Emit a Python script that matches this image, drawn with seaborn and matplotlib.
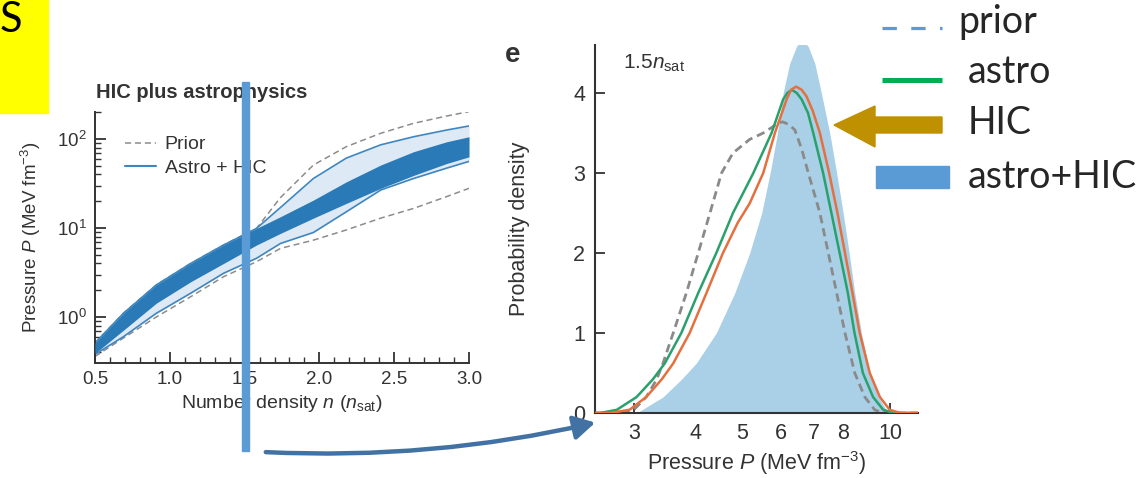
import numpy as np
import matplotlib
matplotlib.use("Agg")
import matplotlib.pyplot as plt
import seaborn as sns
from matplotlib.patches import FancyArrowPatch, Rectangle, Polygon
from matplotlib.lines import Line2D
from matplotlib.ticker import FixedLocator, NullFormatter, MultipleLocator, LogLocator

# ---------------- data: left panel (pressure vs density) ----------------
n_grid = [0.5, 0.69, 0.91, 1.14, 1.36, 1.58, 1.74, 1.96, 2.18, 2.41, 2.63, 2.85, 3.0]
dark_hi = [0.51, 1.10, 2.29, 4.0, 6.44, 9.9, 13.4, 20.6, 33, 51, 72, 93, 106]
dark_lo = [0.39, 0.71, 1.43, 2.49, 4.0, 6.44, 8.7, 12.9, 18.9, 27.9, 39, 53, 63]
light_hi = [0.51, 1.10, 2.29, 4.0, 6.44, 9.9, 17.0, 36, 61, 86, 106, 126, 140]
light_lo = [0.38, 0.60, 1.1, 1.85, 3.1, 4.57, 6.7, 8.9, 15.2, 26.7, 36, 47, 56]
prior_hi = [0.51, 1.10, 2.29, 4.0, 6.44, 9.9, 22, 51, 82, 116, 150, 181, 203]
prior_lo = [0.36, 0.58, 1.0, 1.69, 2.84, 4.18, 5.9, 7.3, 9.5, 12.9, 16.6, 22.5, 27.9]

# ---------------- data: right panel (probability density at 1.5 n_sat) ----------------
prior_P = [2.5, 2.85, 2.92, 3.0, 3.18, 3.34, 3.44, 3.61, 3.84, 4.06, 4.29, 4.53, 4.78, 5.17, 5.51,
           5.77, 5.9, 6.03, 6.2, 6.39, 6.6, 6.81, 7.19, 7.48, 7.78, 8.09, 8.47, 8.88, 9.30, 9.68, 11.4]
prior_d = [0.0, 0.0, 0.01, 0.04, 0.2, 0.42, 0.62, 1.0, 1.5, 2.0, 2.5, 3.0, 3.25, 3.42, 3.5,
           3.58, 3.62, 3.64, 3.61, 3.54, 3.3, 3.0, 2.5, 2.0, 1.5, 1.0, 0.5, 0.2, 0.04, 0.0, 0.0]
astro_P = [2.5, 2.56, 2.77, 3.04, 3.28, 3.47, 3.75, 4.06, 4.42, 4.78, 5.26, 5.73, 6.05, 6.17,
           6.30, 6.45, 6.60, 6.8, 6.97, 7.30, 7.59, 7.89, 8.20, 8.46, 8.80, 9.23, 9.68, 10.15, 11.4]
astro_d = [0.0, 0.0, 0.04, 0.2, 0.42, 0.62, 1.0, 1.5, 2.0, 2.5, 3.0, 3.5, 3.92, 4.0,
           4.04, 4.0, 3.92, 3.75, 3.5, 3.0, 2.5, 2.0, 1.5, 1.0, 0.5, 0.2, 0.04, 0.0, 0.0]
hic_P = [2.5, 2.68, 2.94, 3.18, 3.42, 3.61, 3.90, 4.22, 4.56, 4.89, 5.17, 5.51, 5.82, 6.15, 6.28,
         6.43, 6.60, 6.75, 6.95, 7.19, 7.51, 7.81, 8.09, 8.38, 8.67, 9.09, 9.53, 9.98, 10.5, 11.4]
hic_d = [0.0, 0.0, 0.04, 0.2, 0.42, 0.62, 1.0, 1.5, 2.0, 2.38, 2.62, 3.0, 3.5, 3.92, 4.04,
         4.08, 4.04, 3.96, 3.78, 3.5, 3.0, 2.5, 2.0, 1.5, 1.0, 0.5, 0.2, 0.04, 0.0, 0.0]
comb_P = [3.04, 3.44, 3.75, 4.02, 4.42, 4.82, 5.17, 5.47, 5.69, 5.89, 6.05, 6.24, 6.44, 6.60,
          6.81, 7.02, 7.24, 7.53, 7.78, 8.02, 8.25, 8.47, 8.74, 9.09, 9.46, 9.91]
comb_d = [0.0, 0.2, 0.42, 0.62, 1.0, 1.5, 2.0, 2.5, 3.0, 3.5, 4.0, 4.37, 4.58, 4.68,
          4.58, 4.37, 4.0, 3.5, 3.0, 2.5, 2.0, 1.5, 1.0, 0.5, 0.2, 0.0]

left_xticks = [0.5, 1.0, 1.5, 2.0, 2.5, 3.0]
right_xticks = [3, 4, 5, 6, 7, 8, 10]
right_yticks = [0, 1, 2, 3, 4]
legend_labels = ["prior", "astro", "HIC", "astro+HIC"]

# ---------------- style ----------------
sns.set_style("ticks")
plt.rcParams['font.family'] = ['Liberation Sans', 'DejaVu Sans']
plt.rcParams['mathtext.fontset'] = 'custom'
plt.rcParams['mathtext.rm'] = 'Liberation Sans'
plt.rcParams['mathtext.it'] = 'Liberation Sans:italic'
plt.rcParams['mathtext.bf'] = 'Liberation Sans:bold'

W, H = 1142, 478
fig = plt.figure(figsize=(W / 100, H / 100), dpi=100)

def fx(x):
    return x / W

def fy(y):
    return 1 - y / H

TXT = '#333333'

# ---------------- left panel ----------------
ax1 = fig.add_axes([fx(95), fy(363), fx(469 - 95), (363 - 112) / H])
ax1.set_yscale('log')
ax1.fill_between(n_grid, light_lo, light_hi, color='#dde9f4', lw=0, zorder=1)
sns.lineplot(x=n_grid, y=prior_hi, ax=ax1, color='#8c8c8c', lw=1.1, linestyle=(0, (4, 2.5)), zorder=0.5)
sns.lineplot(x=n_grid, y=prior_lo, ax=ax1, color='#8c8c8c', lw=1.1, linestyle=(0, (4, 2.5)), zorder=2)
sns.lineplot(x=n_grid, y=light_hi, ax=ax1, color='#3f86c1', lw=1.2, zorder=2)
sns.lineplot(x=n_grid, y=light_lo, ax=ax1, color='#3f86c1', lw=1.2, zorder=2)
ax1.fill_between(n_grid, dark_lo, dark_hi, color='#2a7ab8', lw=0, zorder=3)
ax1.set_xlim(0.5, 3.0)
ax1.set_ylim(0.304, 201)
ax1.xaxis.set_major_locator(FixedLocator(left_xticks))
ax1.xaxis.set_minor_locator(MultipleLocator(0.1))
ax1.yaxis.set_major_locator(LogLocator(base=10, numticks=10))
ax1.yaxis.set_minor_locator(LogLocator(base=10, subs=np.arange(2, 10), numticks=20))
ax1.yaxis.set_minor_formatter(NullFormatter())
ax1.set_xticklabels([f"{v:.1f}" for v in left_xticks])
ax1.tick_params(axis='both', which='major', direction='in', length=8, width=1.3,
                labelsize=13.5, colors=TXT, pad=6)
ax1.tick_params(axis='both', which='minor', direction='in', length=4, width=1.0, colors=TXT)
for s in ['top', 'right']:
    ax1.spines[s].set_visible(False)
for s in ['left', 'bottom']:
    ax1.spines[s].set_color(TXT)
    ax1.spines[s].set_linewidth(1.4)
ax1.set_xlabel("Number density $n$ ($n_{\\mathrm{sat}}$)", fontsize=14, color=TXT, labelpad=3)
ax1.set_ylabel("Pressure $P$ (MeV fm$^{-3}$)", fontsize=13.5, color=TXT, labelpad=10)
h1 = [Line2D([], [], color='#8c8c8c', lw=1.1, linestyle=(0, (4, 2.5))),
      Line2D([], [], color='#3f86c1', lw=1.5)]
ax1.legend(h1, ["Prior", "Astro + HIC"], loc='upper left', bbox_to_anchor=(0.08, 0.905),
           frameon=False, fontsize=14, handlelength=1.6, handletextpad=0.45, labelspacing=0.3,
           borderpad=0, borderaxespad=0, labelcolor=TXT)
fig.text(fx(96), fy(92), "HIC plus astrophysics", fontsize=14.5, weight='bold', color=TXT,
         ha='left', va='center')

# ---------------- right panel ----------------
ax2 = fig.add_axes([fx(595), fy(413), fx(918 - 595), (413 - 45) / H])
ax2.set_xscale('log')
ax2.fill_between(comb_P, 0, comb_d, color='#a9d0e7', lw=0, zorder=1)
sns.lineplot(x=prior_P, y=prior_d, ax=ax2, color='#8a8a8a', lw=2.0, linestyle=(0, (3, 1.8)),
             sort=False, estimator=None, zorder=2)
sns.lineplot(x=astro_P, y=astro_d, ax=ax2, color='#2aa06c', lw=1.8, sort=False, estimator=None, zorder=3)
sns.lineplot(x=hic_P, y=hic_d, ax=ax2, color='#e5703f', lw=1.8, sort=False, estimator=None, zorder=4)
ax2.set_xlim(2.5, 11.4)
ax2.set_ylim(0, 4.6)
ax2.xaxis.set_major_locator(FixedLocator(right_xticks))
ax2.xaxis.set_minor_locator(FixedLocator([]))
ax2.set_xticklabels([str(v) for v in right_xticks])
ax2.yaxis.set_major_locator(FixedLocator(right_yticks))
ax2.set_yticklabels([str(v) for v in right_yticks])
ax2.tick_params(axis='both', which='major', direction='in', length=7, width=1.3,
                labelsize=15.5, colors=TXT, pad=7)
for s in ['top', 'right']:
    ax2.spines[s].set_visible(False)
for s in ['left', 'bottom']:
    ax2.spines[s].set_color(TXT)
    ax2.spines[s].set_linewidth(1.5)
ax2.set_xlabel("Pressure $P$ (MeV fm$^{-3}$)", fontsize=15.5, color=TXT, labelpad=4)
ax2.set_ylabel("Probability density", fontsize=15.5, color=TXT, labelpad=31)
fig.text(fx(505), fy(55), "e", fontsize=20, weight='bold', color=TXT, ha='left', va='center')
fig.text(fx(623), fy(63), "1.5$n_{\\mathrm{sat}}$", fontsize=15, color=TXT, ha='left', va='center')

# ---------------- annotations ----------------
fig.patches.append(Rectangle((0, fy(113)), fx(48), 113 / H, transform=fig.transFigure,
                             color='#FFFF00', zorder=0))
fig.text(fx(0), fy(20), "S", fontsize=30, family=['Lato', 'DejaVu Sans'], color='black',
         ha='left', va='center')
fig.patches.append(Rectangle((fx(242), fy(451)), fx(7), (451 - 82) / H, transform=fig.transFigure,
                             color='#5B9BD5', zorder=10))
arr = FancyArrowPatch((fx(263), fy(452)), (fx(598), fy(422)), transform=fig.transFigure,
                      connectionstyle='arc3,rad=0.07',
                      arrowstyle='-|>,head_length=8,head_width=4.5', lw=3.2, color='#4272a3',
                      mutation_scale=1.6, zorder=10)
fig.patches.append(arr)

LF = ['Lato', 'DejaVu Sans']
fs_leg = 27
fig.lines.append(Line2D([fx(882), fx(942)], [fy(28), fy(28)], transform=fig.transFigure,
                        color='#5B9BD5', lw=2.3, dashes=(4.5, 4.5)))
fig.text(fx(958), fy(22), legend_labels[0], fontsize=fs_leg, family=LF, ha='left', va='center')
fig.lines.append(Line2D([fx(882), fx(942)], [fy(80), fy(80)], transform=fig.transFigure,
                        color='#00B050', lw=3.6, solid_capstyle='butt'))
fig.text(fx(968), fy(72), legend_labels[1], fontsize=fs_leg, family=LF, ha='left', va='center')
hic_poly = [(942, 117), (875, 117), (875, 106), (834, 125), (875, 147), (875, 133), (942, 133)]
fig.patches.append(Polygon([(fx(a), fy(b)) for a, b in hic_poly], closed=True,
                           transform=fig.transFigure, color='#BF9000', zorder=10))
fig.text(fx(968), fy(123), legend_labels[2], fontsize=fs_leg, family=LF, ha='left', va='center')
fig.patches.append(Rectangle((fx(876), fy(188)), fx(949 - 876), (188 - 166) / H,
                             transform=fig.transFigure, color='#5B9BD5', zorder=10))
fig.text(fx(968), fy(177), legend_labels[3], fontsize=fs_leg, family=LF, ha='left', va='center')

fig.savefig("out.png", dpi=100)
